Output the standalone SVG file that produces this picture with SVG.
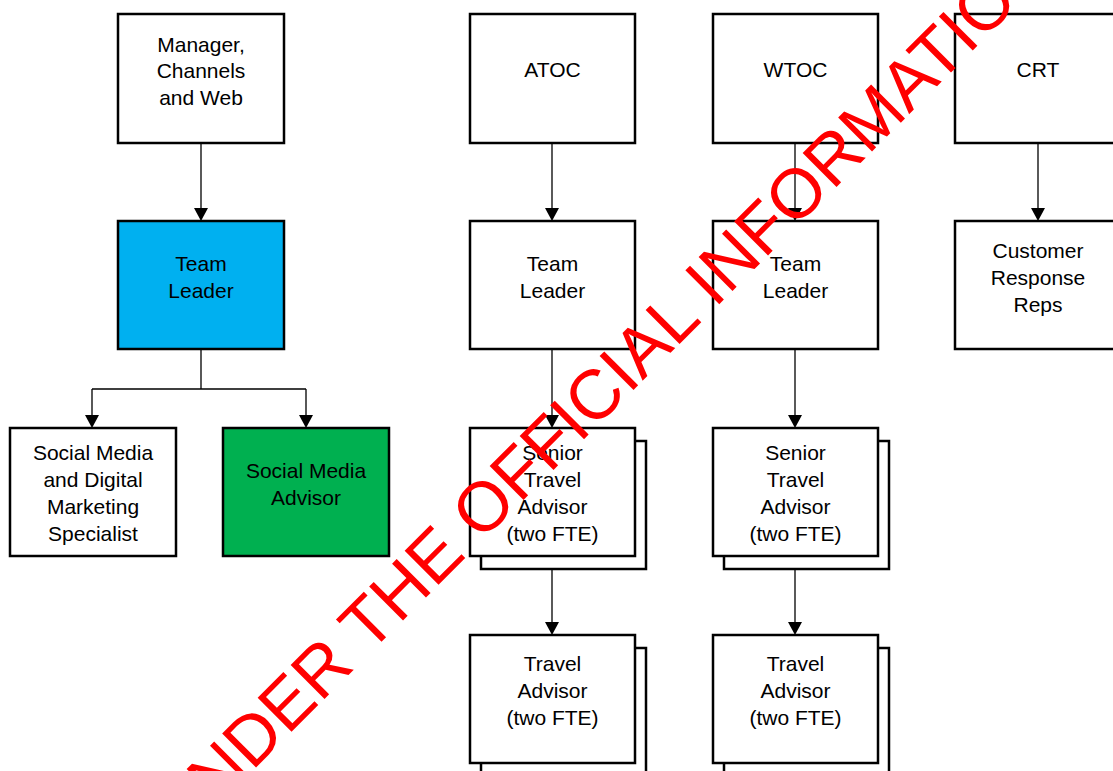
<svg xmlns="http://www.w3.org/2000/svg" width="1113" height="771" viewBox="0 0 1113 771">
<defs>
<style>
.box{fill:#fff;stroke:#000;stroke-width:2.5}
.blue{fill:#00B0F0}
.green{fill:#00B050}
.t{font-family:"Liberation Sans",Arial,sans-serif;font-size:21px;fill:#000;text-anchor:middle}
.c{fill:none;stroke:#000;stroke-width:1.3}
.ah{fill:#000}
.wm{font-family:"Liberation Sans",Arial,sans-serif;font-size:69.7px;fill:#FF0000;text-anchor:middle}
</style>
</defs>
<rect width="1113" height="771" fill="#fff"/>
<g id="connectors">
<path class="c" d="M201,143 V208"/>
<path class="ah" d="M194,208 L208,208 L201,221 Z"/>
<path class="c" d="M201,349 V389 M92,389 H306 M92,389 V415 M306,389 V415"/>
<path class="ah" d="M85,415 L99,415 L92,428 Z"/>
<path class="ah" d="M299,415 L313,415 L306,428 Z"/>
<path class="c" d="M552,143 V208"/>
<path class="ah" d="M545,208 L559,208 L552,221 Z"/>
<path class="c" d="M552,349 V415"/>
<path class="ah" d="M545,415 L559,415 L552,428 Z"/>
<path class="c" d="M552,556 V622"/>
<path class="ah" d="M545,622 L559,622 L552,635 Z"/>
<path class="c" d="M795,143 V208"/>
<path class="ah" d="M788,208 L802,208 L795,221 Z"/>
<path class="c" d="M795,349 V415"/>
<path class="ah" d="M788,415 L802,415 L795,428 Z"/>
<path class="c" d="M795,556 V622"/>
<path class="ah" d="M788,622 L802,622 L795,635 Z"/>
<path class="c" d="M1038,143 V208"/>
<path class="ah" d="M1031,208 L1045,208 L1038,221 Z"/>
</g>
<g id="manager">
<rect class="box" x="118" y="14" width="166" height="129"/>
<text class="t" x="201" y="52">Manager,</text>
<text class="t" x="201" y="78">Channels</text>
<text class="t" x="201" y="105">and Web</text>
</g>
<g id="teamleader-cw">
<rect class="box blue" x="118" y="221" width="166" height="128"/>
<text class="t" x="201" y="271">Team</text>
<text class="t" x="201" y="298">Leader</text>
</g>
<g id="smdms">
<rect class="box" x="10" y="428" width="166" height="128"/>
<text class="t" x="93" y="460">Social Media</text>
<text class="t" x="93" y="487">and Digital</text>
<text class="t" x="93" y="514">Marketing</text>
<text class="t" x="93" y="541">Specialist</text>
</g>
<g id="sma">
<rect class="box green" x="223" y="428" width="166" height="128"/>
<text class="t" x="306" y="478">Social Media</text>
<text class="t" x="306" y="505">Advisor</text>
</g>
<g id="atoc">
<rect class="box" x="470" y="14" width="165" height="129"/>
<text class="t" x="552.5" y="77">ATOC</text>
</g>
<g id="wtoc">
<rect class="box" x="713" y="14" width="165" height="129"/>
<text class="t" x="795.5" y="77">WTOC</text>
</g>
<g id="crt">
<rect class="box" x="955" y="14" width="166" height="129"/>
<text class="t" x="1038" y="77">CRT</text>
</g>
<g id="teamleader-atoc">
<rect class="box" x="470" y="221" width="165" height="128"/>
<text class="t" x="552.5" y="271">Team</text>
<text class="t" x="552.5" y="298">Leader</text>
</g>
<g id="teamleader-wtoc">
<rect class="box" x="713" y="221" width="165" height="128"/>
<text class="t" x="795.5" y="271">Team</text>
<text class="t" x="795.5" y="298">Leader</text>
</g>
<g id="crr">
<rect class="box" x="955" y="221" width="166" height="128"/>
<text class="t" x="1038" y="258">Customer</text>
<text class="t" x="1038" y="285">Response</text>
<text class="t" x="1038" y="312">Reps</text>
</g>
<g id="sta-atoc">
<rect class="box" x="481" y="441" width="165" height="128"/>
<rect class="box" x="470" y="428" width="165" height="128"/>
<text class="t" x="552.5" y="460">Senior</text>
<text class="t" x="552.5" y="487">Travel</text>
<text class="t" x="552.5" y="514">Advisor</text>
<text class="t" x="552.5" y="541">(two FTE)</text>
</g>
<g id="sta-wtoc">
<rect class="box" x="724" y="441" width="165" height="128"/>
<rect class="box" x="713" y="428" width="165" height="128"/>
<text class="t" x="795.5" y="460">Senior</text>
<text class="t" x="795.5" y="487">Travel</text>
<text class="t" x="795.5" y="514">Advisor</text>
<text class="t" x="795.5" y="541">(two FTE)</text>
</g>
<g id="ta-atoc">
<rect class="box" x="481" y="648" width="165" height="128"/>
<rect class="box" x="470" y="635" width="165" height="128"/>
<text class="t" x="552.5" y="671">Travel</text>
<text class="t" x="552.5" y="698">Advisor</text>
<text class="t" x="552.5" y="725">(two FTE)</text>
</g>
<g id="ta-wtoc">
<rect class="box" x="724" y="648" width="165" height="128"/>
<rect class="box" x="713" y="635" width="165" height="128"/>
<text class="t" x="795.5" y="671">Travel</text>
<text class="t" x="795.5" y="698">Advisor</text>
<text class="t" x="795.5" y="725">(two FTE)</text>
</g>
<g id="watermark">
<text class="wm" transform="translate(618.4,405) rotate(-45)">NDER THE OFFICIAL INFORMATIO</text>
</g>
</svg>
